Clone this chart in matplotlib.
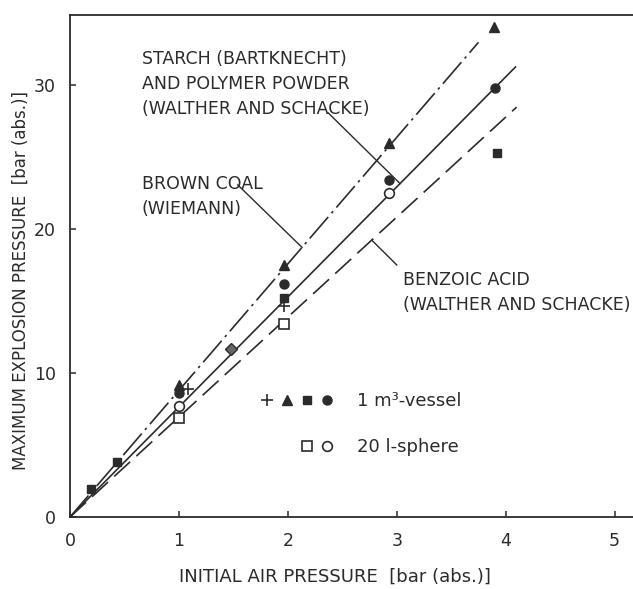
import matplotlib
matplotlib.use("Agg")
import matplotlib.pyplot as plt
import numpy as np
from matplotlib.lines import Line2D
from matplotlib.legend_handler import HandlerTuple

# measured peak pressures, 1 m3 vessel
plus_x = [1.08, 1.96]
plus_y = [8.9, 14.7]
tri_x = [1.0, 1.96, 2.93, 3.89]
tri_y = [9.15, 17.5, 26.0, 34.1]
fsq_x = [0.19, 0.43, 1.96, 3.92]
fsq_y = [1.97, 3.8, 15.2, 25.3]
fci_x = [1.0, 1.96, 2.93, 3.9]
fci_y = [8.6, 16.2, 23.4, 29.8]
dia_x = [1.48]
dia_y = [11.7]

# 20 l sphere
osq_x = [1.0, 1.96]
osq_y = [6.9, 13.4]
oci_x = [1.0, 2.93]
oci_y = [7.7, 22.5]

# proportional fits p_max = k * p0
fit_slope = [8.8, 7.65, 6.95]
fit_xmax = [3.75, 4.09, 4.1]

ink = "#2b2b2b"
plt.rcParams["font.family"] = "DejaVu Sans"

fig = plt.figure(figsize=(6.33, 5.89), dpi=100)
ax = fig.add_axes([70 / 633, 72 / 589, 610 / 633, 502 / 589])
ax.set_xlim(0, 5.6)
ax.set_ylim(0, 34.9)

styles = [(0, (17, 3, 1.5, 3)), "-", (0, (13, 5))]
for k, xm, ls in zip(fit_slope, fit_xmax, styles):
    xs = np.array([0, xm])
    ax.plot(xs, k * xs, color=ink, lw=1.2, linestyle=ls)

mk = dict(linestyle="none", color=ink, zorder=3)
h_plus, = ax.plot(plus_x, plus_y, marker="+", ms=9, mew=1.2, **mk)
h_tri, = ax.plot(tri_x, tri_y, marker="^", ms=7, **mk)
h_fsq, = ax.plot(fsq_x, fsq_y, marker="s", ms=6, **mk)
h_fci, = ax.plot(fci_x, fci_y, marker="o", ms=6.5, **mk)
ax.plot(dia_x, dia_y, linestyle="none", marker="D", ms=6, mfc="#666666", mec=ink, zorder=3)
h_osq, = ax.plot(osq_x, osq_y, marker="s", ms=7, mfc="white", mew=1.2, **mk)
h_oci, = ax.plot(oci_x, oci_y, marker="o", ms=7, mfc="white", mew=1.2, **mk)

# labels and leader lines
txt = dict(fontsize=12.5, color=ink, ha="left", va="center", linespacing=1.5)
ax.text(0.66, 30.1, "STARCH (BARTKNECHT)\nAND POLYMER POWDER\n(WALTHER AND SCHACKE)", **txt)
ax.text(0.66, 22.3, "BROWN COAL\n(WIEMANN)", **txt)
ax.text(3.06, 15.6, "BENZOIC ACID\n(WALTHER AND SCHACKE)", **txt)

leaders = [((1.54, 23.09), 2.13, 0), ((2.37, 28.1), 3.03, 1), ((3.0, 17.52), 2.77, 2)]
for (x0, y0), xe, i in leaders:
    ax.plot([x0, xe], [y0, fit_slope[i] * xe], color=ink, lw=1.0)

blank = Line2D([], [], linestyle="none")
ax.legend([(h_plus, h_tri, h_fsq, h_fci), (blank, blank, h_osq, h_oci)],
          ["1 m³-vessel", "20 l-sphere"],
          handler_map={tuple: HandlerTuple(ndivide=None, pad=0)},
          loc="upper left", bbox_to_anchor=(250 / 633, 204 / 589),
          bbox_transform=fig.transFigure, frameon=False, fontsize=13,
          handlelength=4.4, handletextpad=1.1, labelspacing=1.55,
          borderpad=0.4, borderaxespad=0, labelcolor=ink)

for side in ("left", "bottom", "top"):
    ax.spines[side].set_linewidth(1.3)
    ax.spines[side].set_color(ink)
ax.spines["right"].set_visible(False)

ax.set_xticks([0, 1, 2, 3, 4, 5])
ax.set_yticks([0, 10, 20, 30])
ax.tick_params(direction="in", length=4.5, width=1.1, color=ink, labelcolor=ink,
               labelsize=12.5)
ax.tick_params(axis="x", pad=11)
ax.tick_params(axis="y", pad=10)

ax.set_xlabel("INITIAL AIR PRESSURE  [bar (abs.)]", fontsize=13, color=ink)
ax.set_ylabel("MAXIMUM EXPLOSION PRESSURE  [bar (abs.)]", fontsize=12, color=ink)
ax.xaxis.set_label_coords(0.435, -0.101)
ax.yaxis.set_label_coords(-0.066, 0.472)

fig.savefig("out.png", dpi=100)
